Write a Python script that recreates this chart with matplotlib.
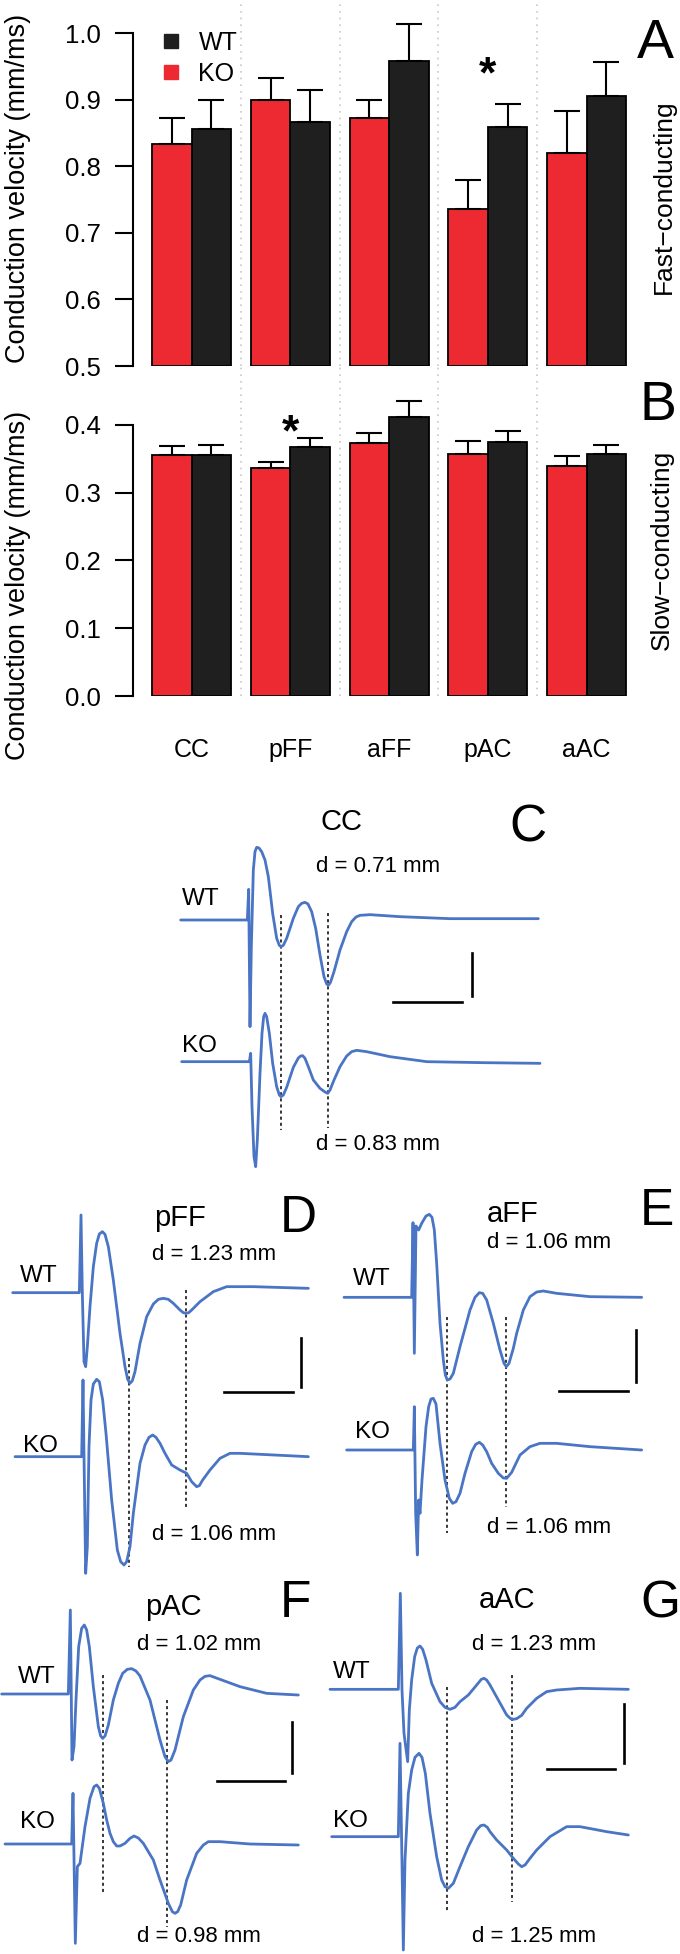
import numpy as np
import matplotlib.pyplot as plt
from matplotlib.lines import Line2D

plt.rcParams['font.family'] = ['Liberation Sans', 'DejaVu Sans']

W, H = 680, 1954

def fx(x):
    return x / W

def fy(y):
    return 1 - y / H

# ---- bar chart data ----
regions = ['CC', 'pFF', 'aFF', 'pAC', 'aAC']
ko_fast = [0.834, 0.899, 0.872, 0.736, 0.8205]
ko_fast_err = [0.038, 0.034, 0.028, 0.043, 0.063]
wt_fast = [0.856, 0.867, 0.958, 0.8595, 0.9055]
wt_fast_err = [0.044, 0.047, 0.056, 0.034, 0.051]
ko_slow = [0.356, 0.336, 0.373, 0.3575, 0.340]
ko_slow_err = [0.013, 0.010, 0.0156, 0.019, 0.014]
wt_slow = [0.356, 0.368, 0.411, 0.375, 0.357]
wt_slow_err = [0.015, 0.012, 0.0246, 0.0156, 0.0134]
star_fast = 'pAC'
star_slow = 'pFF'

red = '#ed2932'
black = '#1f1f1f'
blue = '#4a74c4'

fig = plt.figure(figsize=(6.8, 19.54), dpi=100)

x = np.arange(len(regions))
x_lo = -0.2 - (171.75 - 133) / 98.75
x_hi = x_lo + (660 - 133) / 98.75

def bar_panel(ax, ko, ko_err, wt, wt_err, base):
    ekw = dict(elinewidth=1.5, capsize=9.5, capthick=1.5, ecolor='black')
    ko_h = [v - base for v in ko]
    wt_h = [v - base for v in wt]
    zero = np.zeros(len(ko))
    ax.bar(x - 0.2, ko_h, 0.4, bottom=base, color=red, edgecolor='black',
           linewidth=1.3, yerr=[zero, ko_err], error_kw=ekw, zorder=3)
    ax.bar(x + 0.2, wt_h, 0.4, bottom=base, color=black, edgecolor='black',
           linewidth=1.3, yerr=[zero, wt_err], error_kw=ekw, zorder=3)
    ax.set_xlim(x_lo, x_hi)
    for s in ['top', 'right', 'bottom']:
        ax.spines[s].set_visible(False)
    ax.spines['left'].set_linewidth(1.5)
    ax.set_xticks([])
    ax.tick_params(axis='y', length=13, width=1.5, pad=10, labelsize=18.5)
    ax.patch.set_alpha(0)

axA = fig.add_axes([fx(133), fy(366), fx(660) - fx(133), 366 / H])
bar_panel(axA, ko_fast, ko_fast_err, wt_fast, wt_fast_err, 0.5)
axA.set_ylim(0.5, 1.0 + 33 / 665)
axA.spines['left'].set_bounds(0.5, 1.0)
axA.set_yticks([0.5, 0.6, 0.7, 0.8, 0.9, 1.0])
axA.set_yticklabels(['0.5', '0.6', '0.7', '0.8', '0.9', '1.0'])

axB = fig.add_axes([fx(133), fy(696), fx(660) - fx(133), 300 / H])
bar_panel(axB, ko_slow, ko_slow_err, wt_slow, wt_slow_err, 0.0)
axB.set_ylim(0, 0.4 + 29 / 680)
axB.spines['left'].set_bounds(0, 0.4)
axB.set_yticks([0.0, 0.1, 0.2, 0.3, 0.4])
axB.set_yticklabels(['0.0', '0.1', '0.2', '0.3', '0.4'])

# dotted separators between groups
for sep in x[:-1] + 0.5:
    axA.axvline(sep, 0, 1, color='#c8c8c8', lw=1.2, ls=(0, (1, 3)), zorder=1)
    axB.axvline(sep, 0, 1.1, color='#c8c8c8', lw=1.2, ls=(0, (1, 3)),
                zorder=1, clip_on=False)

for i, name in enumerate(regions):
    axB.text(i, -0.0897, name, ha='center', va='baseline', fontsize=18,
             clip_on=False)

axA.text(regions.index(star_fast), 0.918, '*', ha='center', va='baseline',
         fontsize=32, fontweight='bold')
axB.text(regions.index(star_slow), 0.37, '*', ha='center', va='baseline',
         fontsize=32, fontweight='bold')

handles = [Line2D([], [], marker='s', ls='', color=black, markersize=9.5),
           Line2D([], [], marker='s', ls='', color=red, markersize=9.5)]
fig.legend(handles, ['WT', 'KO'], loc='upper left',
           bbox_to_anchor=(fx(146), fy(18)), frameon=False, fontsize=18,
           borderpad=0, handlelength=1.0, handletextpad=0.6, labelspacing=0.3)

fig.text(fx(18), fy(188), 'Conduction velocity (mm/ms)', rotation=90,
         ha='center', va='center', fontsize=19.5)
fig.text(fx(18), fy(585), 'Conduction velocity (mm/ms)', rotation=90,
         ha='center', va='center', fontsize=19.5)
fig.text(fx(664), fy(197), 'Fast\u2212conducting', rotation=90,
         ha='center', va='center', fontsize=19)
fig.text(fx(662), fy(550), 'Slow\u2212conducting', rotation=90,
         ha='center', va='center', fontsize=19)
fig.text(fx(655), fy(58), 'A', ha='center', va='baseline', fontsize=40)
fig.text(fx(658), fy(420), 'B', ha='center', va='baseline', fontsize=40)

# ---- compound action potential traces, (time, level) ----
# panel C: CC
cc_wt = [(92, 240), (292, 240), (296, 148), (300, 560), (304, 320), (310, 90),
         (315, 35), (320, 22), (327, 24), (335, 35), (345, 60), (355, 110),
         (368, 220), (380, 295), (388, 316), (393, 320), (400, 316), (410, 295),
         (430, 235), (445, 200), (455, 190), (465, 187), (474, 192), (485, 215),
         (497, 265), (510, 345), (522, 410), (530, 432), (535, 436), (541, 428),
         (552, 395), (570, 330), (590, 275), (605, 245), (618, 231), (630, 226),
         (660, 224), (750, 230), (900, 236), (1165, 236)]
cc_ko = [(95, 665), (298, 665), (302, 640), (306, 800), (312, 950), (317, 980),
         (322, 900), (330, 700), (336, 580), (341, 530), (345, 520), (350, 530),
         (358, 580), (368, 670), (380, 740), (388, 765), (393, 770), (400, 765),
         (410, 742), (430, 682), (445, 654), (452, 648), (458, 647), (465, 655),
         (475, 680), (490, 720), (510, 745), (525, 756), (533, 760), (540, 750),
         (552, 720), (570, 680), (590, 648), (605, 635), (620, 631), (650, 635),
         (720, 650), (830, 665), (1000, 668), (1170, 670)]
cc_marks = [393, 535]
cc_marks_top = [225, 219]
cc_marks_bot = [870, 865]

# panel D: pFF
pff_wt = [(38, 338), (238, 338), (243, 105), (247, 340), (252, 545), (257, 560),
          (262, 500), (270, 380), (280, 260), (290, 190), (298, 162), (307, 155),
          (315, 163), (325, 200), (340, 300), (360, 460), (375, 560), (383, 598),
          (390, 610), (397, 602), (405, 575), (420, 490), (440, 410), (460, 372),
          (475, 358), (490, 355), (505, 358), (520, 370), (540, 390), (550, 398),
          (558, 400), (566, 398), (575, 390), (600, 365), (640, 335), (680, 320),
          (760, 320), (925, 325)]
pff_ko = [(45, 830), (245, 830), (249, 600), (253, 900), (257, 1180), (262, 1100),
          (267, 800), (273, 660), (280, 612), (290, 598), (298, 605), (308, 660),
          (318, 760), (335, 960), (352, 1110), (362, 1145), (372, 1155),
          (380, 1145), (390, 1100), (400, 1000), (420, 850), (435, 795),
          (447, 772), (458, 765), (468, 772), (480, 790), (495, 820), (515, 855),
          (540, 870), (560, 880), (575, 905), (590, 920), (598, 917), (608, 900),
          (630, 870), (660, 835), (690, 820), (720, 820), (925, 830)]
pff_marks = [387, 557]
pff_marks_top = [535, 330]
pff_marks_bot = [1160, 980]

# panel E: aFF
aff_wt = [(12, 352), (215, 352), (219, 128), (223, 520), (228, 138), (236, 150),
          (245, 130), (258, 108), (268, 103), (276, 112), (283, 150), (290, 250),
          (300, 430), (310, 540), (316, 585), (322, 600), (330, 597), (340, 580),
          (360, 500), (390, 390), (405, 352), (418, 338), (428, 340), (440, 360),
          (460, 430), (480, 510), (492, 550), (499, 560), (507, 550), (520, 505),
          (530, 460), (550, 390), (570, 350), (590, 336), (610, 333), (650, 340),
          (750, 350), (905, 352)]
aff_ko = [(20, 810), (220, 810), (223, 680), (227, 1000), (232, 1125), (236, 960),
          (240, 1000), (246, 900), (258, 740), (266, 680), (273, 657), (280, 655),
          (288, 672), (300, 790), (315, 900), (328, 955), (338, 970), (348, 965),
          (360, 940), (375, 880), (395, 815), (407, 793), (418, 787), (428, 795),
          (440, 815), (455, 850), (475, 880), (490, 894), (500, 895), (515, 877),
          (540, 825), (570, 800), (600, 790), (650, 790), (750, 800), (905, 810)]
aff_marks = [320, 497]
aff_marks_top = [410, 410]
aff_marks_bot = [1060, 980]

# panel F: pAC
pac_wt = [(5, 402), (205, 402), (211, 150), (216, 600), (222, 560), (228, 420),
          (236, 260), (245, 205), (253, 195), (260, 210), (268, 260), (280, 380),
          (295, 500), (302, 528), (308, 535), (315, 528), (325, 495), (340, 420),
          (355, 370), (368, 340), (382, 328), (395, 326), (408, 333), (420, 348),
          (450, 420), (480, 540), (495, 590), (505, 605), (513, 600), (525, 570),
          (550, 470), (580, 390), (600, 360), (615, 349), (630, 347), (660, 358),
          (720, 380), (800, 400), (895, 405)]
pac_ko = [(15, 852), (215, 852), (219, 700), (226, 1150), (232, 920), (240, 910),
          (255, 800), (270, 715), (282, 680), (290, 675), (298, 685), (310, 730),
          (320, 780), (330, 820), (340, 845), (350, 858), (360, 858), (375, 850),
          (390, 835), (402, 828), (415, 834), (430, 850), (460, 900), (480, 960),
          (505, 1030), (517, 1055), (525, 1060), (533, 1055), (542, 1035),
          (560, 960), (590, 880), (610, 855), (625, 845), (660, 845), (750, 852),
          (895, 855)]
pac_marks = [308, 502]
pac_marks_top = [345, 420]
pac_marks_bot = [995, 1100]

# panel G: aAC
aac_wt = [(-30, 388), (175, 388), (181, 100), (186, 390), (192, 520), (203, 605),
          (208, 450), (215, 360), (224, 290), (232, 264), (240, 258), (248, 268),
          (258, 300), (275, 370), (300, 425), (315, 442), (330, 448), (345, 442),
          (360, 425), (385, 405), (410, 375), (424, 358), (432, 355), (440, 360),
          (450, 375), (475, 420), (500, 465), (512, 476), (520, 478), (530, 476),
          (545, 466), (560, 445), (590, 415), (620, 395), (650, 390), (720, 385),
          (865, 388)]
aac_ko = [(-25, 830), (175, 830), (180, 550), (186, 910), (190, 1170), (195, 900),
          (205, 700), (215, 630), (225, 592), (237, 580), (246, 592), (256, 640),
          (270, 760), (290, 890), (305, 960), (315, 980), (325, 985), (340, 970),
          (360, 920), (385, 860), (410, 810), (422, 797), (432, 795), (442, 802),
          (450, 815), (470, 840), (500, 870), (520, 895), (535, 912), (545, 920),
          (555, 915), (570, 895), (590, 870), (630, 830), (680, 800), (720, 800),
          (800, 815), (865, 825)]
aac_marks = [322, 517]
aac_marks_top = [380, 345]
aac_marks_bot = [1060, 1025]

# scale bars: (x0, x1, y) horizontal, (x, y0, y1) vertical
cc_bars = [(729, 936, 486), (966, 339, 468)]
pff_bars = [(672, 878, 637), (903, 475, 620)]
aff_bars = [(658, 865, 633), (888, 450, 605)]
pac_bars = [(650, 855, 662), (877, 485, 640)]
aac_bars = [(620, 825, 628), (853, 433, 608)]

cc_dist = ['d = 0.71 mm', 'd = 0.83 mm']
pff_dist = ['d = 1.23 mm', 'd = 1.06 mm']
aff_dist = ['d = 1.06 mm', 'd = 1.06 mm']
pac_dist = ['d = 1.02 mm', 'd = 0.98 mm']
aac_dist = ['d = 1.23 mm', 'd = 1.25 mm']


def trace_panel(box, wt, ko, marks, mtop, mbot, bars):
    x0, y0, w, h = box
    ax = fig.add_axes([fx(x0), fy(y0 + h), w / W, h / H])
    ax.set_xlim(0, 3 * w)
    ax.set_ylim(3 * h, 0)
    ax.axis('off')
    ax.vlines(marks, mtop, mbot, colors='black', lw=1.1, ls=(0, (2, 2)),
              clip_on=False)
    for trace in (wt, ko):
        t, v = np.array(trace).T
        ax.plot(t, v, color=blue, lw=2.0, clip_on=False,
                solid_joinstyle='round', solid_capstyle='round')
    hb, vb = bars
    ax.plot([hb[0], hb[1]], [hb[2], hb[2]], color='black', lw=1.9)
    ax.plot([vb[0], vb[0]], [vb[1], vb[2]], color='black', lw=1.9)
    return ax


def labels(title, tpos, letter, lpos, dist, dpos, wtpos, kopos):
    fig.text(fx(tpos[0]), fy(tpos[1]), title, ha='center', va='baseline',
             fontsize=21)
    fig.text(fx(lpos[0]), fy(lpos[1]), letter, ha='center', va='baseline',
             fontsize=37)
    fig.text(fx(dpos[0]), fy(dpos[1]), dist[0], ha='center', va='baseline',
             fontsize=16)
    fig.text(fx(dpos[0]), fy(dpos[2]), dist[1], ha='center', va='baseline',
             fontsize=16)
    fig.text(fx(wtpos[0]), fy(wtpos[1]), 'WT', ha='left', va='baseline',
             fontsize=17.5)
    fig.text(fx(kopos[0]), fy(kopos[1]), 'KO', ha='left', va='baseline',
             fontsize=17.5)


trace_panel((150, 840, 530, 360), cc_wt, cc_ko,
            cc_marks, cc_marks_top, cc_marks_bot, cc_bars)
labels('CC', (341, 830), 'C', (528, 842), cc_dist, (378, 872, 1150),
       (182, 905), (182, 1052))

trace_panel((0, 1180, 340, 380), pff_wt, pff_ko,
            pff_marks, pff_marks_top, pff_marks_bot, pff_bars)
labels('pFF', (180, 1226), 'D', (298, 1232), pff_dist, (214, 1260, 1540),
       (20, 1282), (23, 1452))

trace_panel((340, 1180, 340, 380), aff_wt, aff_ko,
            aff_marks, aff_marks_top, aff_marks_bot, aff_bars)
labels('aFF', (513, 1222), 'E', (657, 1225), aff_dist, (549, 1248, 1533),
       (353, 1285), (355, 1438))

trace_panel((0, 1560, 340, 394), pac_wt, pac_ko,
            pac_marks, pac_marks_top, pac_marks_bot, pac_bars)
labels('pAC', (173, 1615), 'F', (295, 1617), pac_dist, (199, 1650, 1942),
       (18, 1683), (20, 1828))

trace_panel((340, 1560, 340, 394), aac_wt, aac_ko,
            aac_marks, aac_marks_top, aac_marks_bot, aac_bars)
labels('aAC', (507, 1608), 'G', (660, 1617), aac_dist, (534, 1650, 1942),
       (333, 1678), (333, 1827))

fig.savefig('out.png', dpi=100)
